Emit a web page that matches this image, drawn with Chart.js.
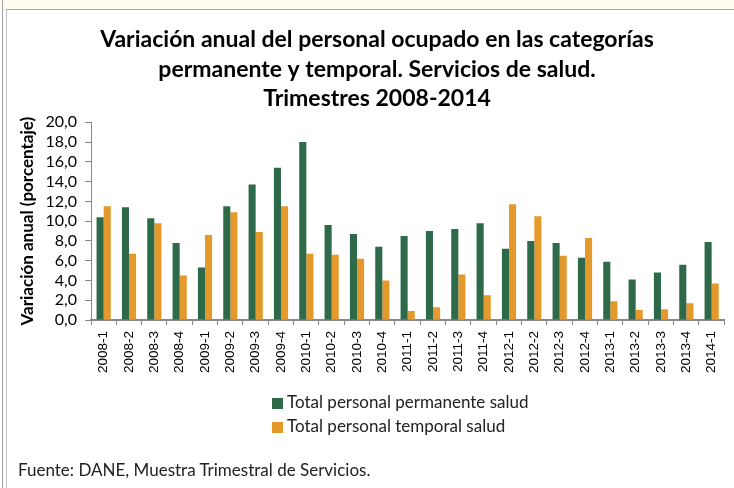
<!DOCTYPE html>
<html>
<head>
<meta charset="utf-8">
<script src="https://cdn.jsdelivr.net/npm/chart.js@4"></script>
<style>
    body { margin: 0; width: 734px; height: 488px; overflow: hidden; background: #fff; position: relative; }
    #topbar { position: absolute; left: 0; top: 0; width: 734px; height: 9px; background: #fefdf0; }
    #topline { position: absolute; left: 6px; top: 9px; width: 728px; height: 1px; background: #a8a8a8; }
    #leftline1 { position: absolute; left: 2px; top: 0; width: 1px; height: 488px; background: #a0a0a0; }
    #leftline2 { position: absolute; left: 6px; top: 10px; width: 1px; height: 478px; background: #c4c4c4; }
    #wrap { position: absolute; left: 0; top: 0; width: 734px; height: 488px; }
    #legend { position: absolute; left: 272px; top: 391px; font-family: Lato, sans-serif; font-size: 17px; color: #222; }
    #legend div { height: 24px; line-height: 21px; }
    #legend span.box { display: inline-block; width: 11px; height: 11px; margin-right: 4px; vertical-align: -1px; }
    #source { position: absolute; left: 18px; top: 459px; font-family: Lato, sans-serif; font-size: 17px; color: #222; }
</style>
</head>
<body>
<div id="topbar"></div>
<div id="topline"></div>
<div id="leftline1"></div>
<div id="leftline2"></div>
<div id="wrap"><canvas id="chart"></canvas></div>
<div id="legend"></div>
<div id="source">Fuente: DANE, Muestra Trimestral de Servicios.</div>
<script>
// Data
const quarters = [
    '2008-1', '2008-2', '2008-3', '2008-4',
    '2009-1', '2009-2', '2009-3', '2009-4',
    '2010-1', '2010-2', '2010-3', '2010-4',
    '2011-1', '2011-2', '2011-3', '2011-4',
    '2012-1', '2012-2', '2012-3', '2012-4',
    '2013-1', '2013-2', '2013-3', '2013-4',
    '2014-1'
];
const permanente = [
    10.4, 11.4, 10.3, 7.8,
    5.3, 11.5, 13.7, 15.4,
    18.0, 9.6, 8.7, 7.4,
    8.5, 9.0, 9.2, 9.8,
    7.2, 8.0, 7.8, 6.3,
    5.9, 4.1, 4.8, 5.6,
    7.9
];
const temporal = [
    11.5, 6.7, 9.8, 4.5,
    8.6, 10.9, 8.9, 11.5,
    6.7, 6.6, 6.2, 4.0,
    0.9, 1.3, 4.6, 2.5,
    11.7, 10.5, 6.5, 8.3,
    1.9, 1.0, 1.1, 1.7,
    3.7
];
const seriesNames = ['Total personal permanente salud', 'Total personal temporal salud'];
const titleLines = [
    'Variación anual del personal ocupado en las categorías',
    'permanente y temporal. Servicios de salud.',
    'Trimestres 2008-2014'
];
const yTitle = 'Variación anual (porcentaje)';

const colors = ['#2e6a4a', '#e4992a'];

const ctx = document.getElementById('chart').getContext('2d');
const chart = new Chart(ctx, {
    type: 'bar',
    data: {
        labels: quarters,
        datasets: [
            { label: seriesNames[0], data: permanente, backgroundColor: colors[0] },
            { label: seriesNames[1], data: temporal, backgroundColor: colors[1] }
        ]
    },
    options: {
        responsive: true,
        maintainAspectRatio: false,
        animation: false,
        layout: {
            padding: { left: 27, right: 7, top: 0, bottom: 108 }
        },
        datasets: {
            bar: { categoryPercentage: 0.56, barPercentage: 1.0 }
        },
        plugins: {
            legend: { display: false },
            tooltip: { enabled: false },
            title: {
                display: true,
                text: titleLines,
                color: '#000',
                font: { family: 'Lato', size: 23, weight: 'bold', lineHeight: 1.28 },
                padding: { top: 25, bottom: 9 }
            }
        },
        scales: {
            x: {
                grid: {
                    display: true,
                    offset: true,
                    drawOnChartArea: false,
                    drawTicks: true,
                    tickLength: 5,
                    color: '#888'
                },
                border: { color: '#888', width: 2 },
                ticks: {
                    color: '#000',
                    minRotation: 90,
                    maxRotation: 90,
                    autoSkip: false,
                    padding: 6,
                    font: { family: 'Liberation Sans', size: 13.5 }
                },
                afterFit: function (scale) {
                    scale.height = 60;
                }
            },
            y: {
                min: 0,
                max: 20,
                grid: {
                    drawOnChartArea: false,
                    drawTicks: true,
                    tickLength: 6,
                    color: '#888'
                },
                border: { color: '#888', width: 1 },
                ticks: {
                    stepSize: 2,
                    autoSkip: false,
                    color: '#000',
                    padding: 8,
                    font: { family: 'Lato', size: 16 },
                    callback: function (value) {
                        return value.toFixed(1).replace('.', ',');
                    }
                },
                title: {
                    display: true,
                    text: yTitle,
                    color: '#000',
                    font: { family: 'Lato', size: 17, weight: 'bold' },
                    padding: { top: -10, bottom: 0 }
                },
                afterFit: function (scale) {
                    scale.width = 64;
                }
            }
        }
    }
});

// HTML legend built from the chart's datasets
document.getElementById('legend').innerHTML = chart.data.datasets.map(ds =>
    `<div><span class="box" style="background:${ds.backgroundColor}"></span>${ds.label}</div>`
).join('');
</script>
</body>
</html>
